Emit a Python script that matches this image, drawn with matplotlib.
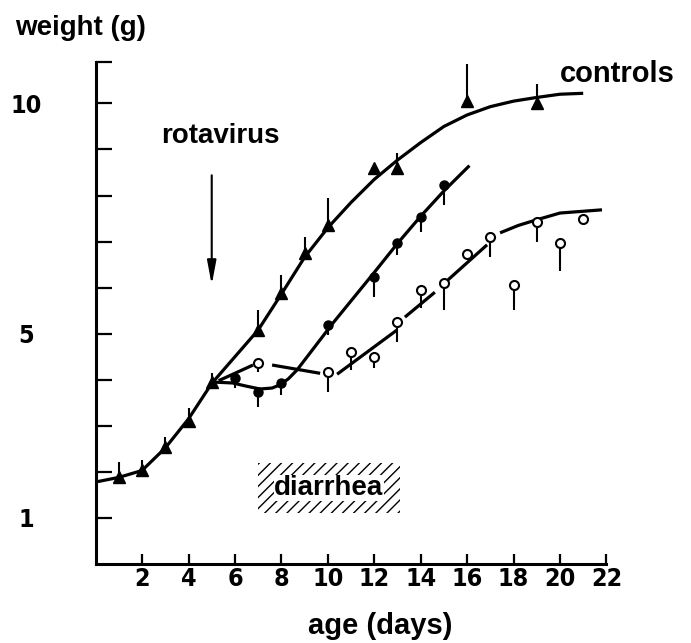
import numpy as np
import matplotlib
matplotlib.use("Agg")
import matplotlib.pyplot as plt
from matplotlib.patches import Rectangle

# controls (triangles, error bars upward)
ctrl_days = [1, 2, 3, 4, 5, 7, 8, 9, 10, 12, 13, 16, 19]
ctrl_wt = [1.89, 2.04, 2.54, 3.1, 3.95, 5.08, 5.88, 6.75, 7.35, 8.59, 8.59, 10.05, 10.0]
ctrl_err = [0.33, 0.22, 0.22, 0.28, 0.2, 0.43, 0.39, 0.35, 0.59, 0.0, 0.33, 0.8, 0.43]

# infected, recovering (filled circles, error bars downward)
inf1_days = [6, 7, 8, 10, 12, 13, 14, 15]
inf1_wt = [4.03, 3.73, 3.93, 5.18, 6.23, 6.98, 7.53, 8.22]
inf1_err = [0.2, 0.33, 0.26, 0.2, 0.43, 0.28, 0.33, 0.43]

# infected, stunted (open circles, error bars downward)
inf2_days = [7, 10, 11, 12, 13, 14, 15, 16, 17, 18, 19, 20, 21]
inf2_wt = [4.36, 4.16, 4.6, 4.5, 5.25, 5.94, 6.1, 6.72, 7.1, 6.05, 7.42, 6.98, 7.48]
inf2_err = [0.2, 0.43, 0.39, 0.24, 0.43, 0.39, 0.58, 0.0, 0.43, 0.54, 0.43, 0.61, 0.0]

# hand drawn growth curves
ctrl_curve_x = [0, 1, 2, 3, 4, 5, 6, 7, 8, 9, 10, 11, 12, 13, 14, 15, 16, 17, 18, 19, 20, 21]
ctrl_curve_y = [1.78, 1.88, 2.03, 2.52, 3.15, 3.92, 4.5, 5.08, 5.86, 6.66, 7.3, 7.85, 8.35,
                8.77, 9.15, 9.5, 9.75, 9.93, 10.05, 10.13, 10.2, 10.22]
inf1_curve_x = [5.06, 5.9, 6.5, 7.08, 7.6, 7.94, 8.3, 8.67, 10.22, 12, 13, 14, 15, 16.1]
inf1_curve_y = [3.95, 3.93, 3.86, 3.8, 3.82, 3.89, 4.02, 4.21, 5.23, 6.33, 6.96, 7.55, 8.1, 8.65]
# broken line, segments separated by nan
inf2_curve_x = [5.3, 6.78, np.nan, 7.6, 9.67, np.nan, 10.4, 12.98, np.nan, 13.32, 14.61, np.nan,
                15.18, 16.86, np.nan, 17.42, 18.2, 18.97, 20.0, 21.81]
inf2_curve_y = [3.98, 4.32, np.nan, 4.32, 4.14, np.nan, 4.12, 5.08, np.nan, 5.36, 5.9, np.nan,
                6.17, 6.93, np.nan, 7.19, 7.35, 7.47, 7.62, 7.69]

x_ticks = [2, 4, 6, 8, 10, 12, 14, 16, 18, 20, 22]
y_ticks = [1, 2, 3, 4, 5, 6, 7, 8, 9, 10]
y_labels = {1: "1", 5: "5", 10: "10"}

bold = dict(family="Liberation Sans", weight="bold")
narrow = dict(family="DejaVu Sans", weight="bold", stretch="condensed")

fig = plt.figure(figsize=(6.91, 6.43), dpi=100)
ax = fig.add_axes([0.1384, 0.1229, 0.7392, 0.7807])
ax.set_xlim(0, 22)
ax.set_ylim(0, 10.9)

for s in ["top", "right"]:
    ax.spines[s].set_visible(False)
for s in ["left", "bottom"]:
    ax.spines[s].set_linewidth(2.2)

ax.set_xticks(x_ticks)
ax.set_xticklabels([str(t) for t in x_ticks], **narrow, fontsize=18)
ax.set_yticks(y_ticks + [10.9])
ax.set_yticklabels([y_labels.get(t, "") for t in y_ticks] + [""], **narrow, fontsize=18,
                   ha="center")
ax.tick_params(axis="x", direction="in", length=7, width=1.6, pad=2)
ax.tick_params(axis="y", direction="in", length=11.5, width=1.6, pad=50)

lw = 2.3
ax.plot(ctrl_curve_x, ctrl_curve_y, color="black", lw=lw, solid_capstyle="butt")
ax.plot(inf1_curve_x, inf1_curve_y, color="black", lw=lw, solid_capstyle="butt")
ax.plot(inf2_curve_x, inf2_curve_y, color="black", lw=lw, solid_capstyle="butt")

ax.errorbar(ctrl_days, ctrl_wt, yerr=[np.zeros(len(ctrl_err)), ctrl_err], fmt="^",
            color="black", ms=8, elinewidth=1.5, capsize=0, zorder=4)
ax.errorbar(inf1_days, inf1_wt, yerr=[inf1_err, np.zeros(len(inf1_err))], fmt="o",
            color="black", ms=6.5, elinewidth=1.5, capsize=0, zorder=4)
ax.errorbar(inf2_days, inf2_wt, yerr=[inf2_err, np.zeros(len(inf2_err))], fmt="o",
            color="black", mfc="white", mec="black", mew=1.5, ms=6.5, elinewidth=1.5,
            capsize=0, zorder=5)

# diarrhea period
plt.rcParams["hatch.linewidth"] = 1.0
ax.add_patch(Rectangle((7.0, 1.1), 6.1, 1.1, facecolor="none", edgecolor="black",
                       linewidth=0, hatch="///"))
ax.text(10.05, 1.65, "diarrhea", ha="center", va="center", fontsize=20, **bold,
        bbox=dict(facecolor="white", edgecolor="none", pad=0.3))

# rotavirus inoculation
ax.annotate("", xy=(5.0, 6.0), xytext=(5.0, 8.5),
            arrowprops=dict(arrowstyle="-|>,head_length=0.8,head_width=0.15", color="black",
                            lw=1.5, mutation_scale=18))
ax.text(5.37, 9.14, "rotavirus", ha="center", va="baseline", fontsize=20, **bold)
ax.text(22.45, 10.46, "controls", ha="center", va="baseline", fontsize=21, **bold,
        clip_on=False)

fig.text(15 / 691, 1 - 35 / 643, "weight (g)", ha="left", va="baseline", fontsize=20, **bold)
fig.text(380 / 691, 1 - 634 / 643, "age (days)", ha="center", va="baseline", fontsize=21, **bold)

fig.savefig("out.png", dpi=100)
